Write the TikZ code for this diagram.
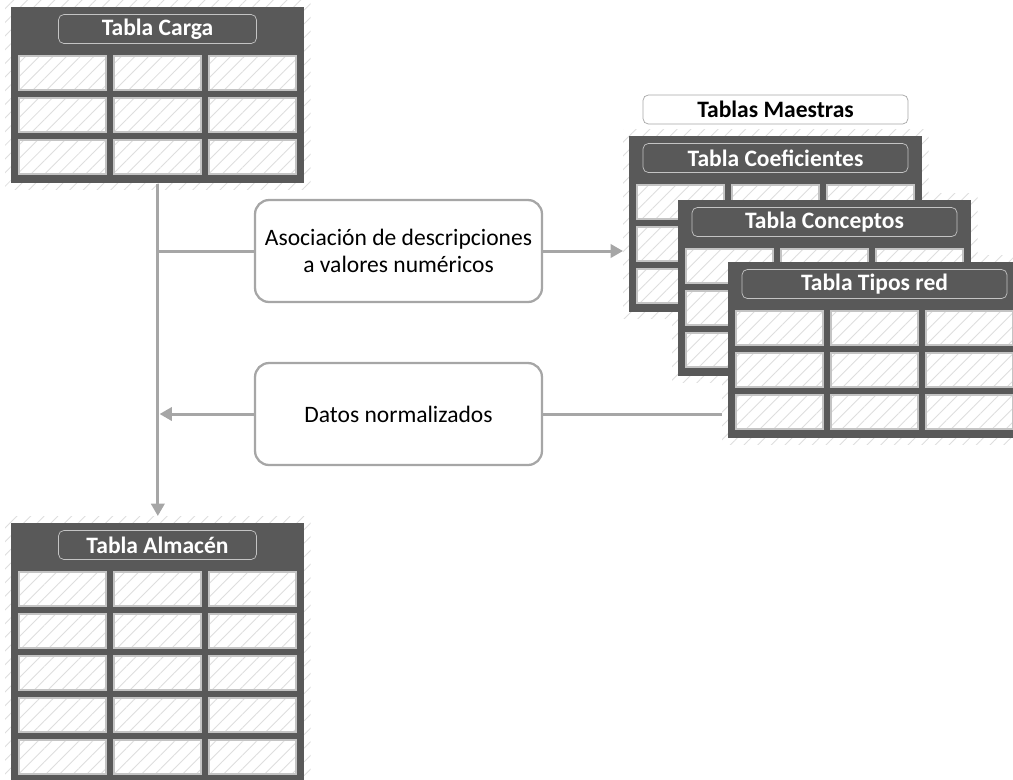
\documentclass[tikz,border=0pt]{standalone}
\usepackage{fontspec}
\setmainfont{Carlito}
\usetikzlibrary{patterns.meta,arrows.meta}
\pgfdeclarelayer{fondo}
\pgfsetlayers{fondo,main}
\definecolor{oscuro}{HTML}{595959}
\definecolor{gris}{HTML}{A6A6A6}
\definecolor{claro}{HTML}{C4C4C4}
\definecolor{rayas}{HTML}{DEDEDE}
\tikzstyle{rayado} = [pattern={Lines[angle=45,distance=5.5pt,line width=0.5pt]}, pattern color=rayas]
\tikzstyle{marco} = [fill=oscuro, inner sep=0pt, anchor=north west, minimum width=5.86cm]
\tikzstyle{celda} = [draw=claro, line width=0.6pt, preaction={fill=white}, rayado]
\tikzstyle{titulo} = [draw=claro, fill=oscuro, rounded corners=3pt, text=white, inner sep=0pt, minimum height=0.58cm, font=\fontsize{13.4}{15.5}\selectfont\bfseries]
\tikzstyle{maestras} = [titulo, draw=gris, fill=white, text=black, minimum width=5.3cm]
\tikzstyle{caja} = [draw=gris, line width=1.3pt, rounded corners=8pt, fill=white, minimum width=5.74cm, minimum height=2.04cm, align=center, font=\fontsize{13.4}{15.5}\selectfont]
\tikzstyle{linea} = [draw=gris, line width=1.7pt]
\tikzstyle{flecha} = [linea, -{Triangle[length=7pt,width=7.5pt]}]

% tabla: nombre, x, y, filas, titulo, ancho del titulo
\newcommand{\tabla}[6]{%
  \node[marco, minimum height={(50+42*#4)*0.02cm}] (#1) at (#2,#3) {};
  \begin{pgfonlayer}{fondo}
    \fill[rayado] ([shift={(-6,-7)}]#1.north west) rectangle ([shift={(6,6)}]#1.south east);
  \end{pgfonlayer}
  \coordinate (#1-n) at ([yshift=0.14cm]#1.north);
  \coordinate (#1-w) at ([xshift=-0.12cm]#1.west);
  \node[titulo, minimum width=#6] (#1-t) at ([shift={(146.5,22)}]#1.north west) {#5};
  \foreach \fila in {1,...,#4}
    \foreach \col in {0,1,2}
      \path[celda] ([shift={(8+95*\col,7+42*\fila)}]#1.north west) rectangle ++(87,34);
}

\begin{document}
\begin{tikzpicture}[x=0.02cm,y=-0.02cm]
        \useasboundingbox (0,0) rectangle (1013,779);
        \tabla{carga}{11}{7}{3}{Tabla Carga}{3.96cm}
        \tabla{almacen}{11}{523}{5}{Tabla Almacén}{3.96cm}
        \tabla{coef}{629}{136}{3}{Tabla Coeficientes}{5.3cm}
        \tabla{conc}{678}{200}{3}{Tabla Conceptos}{5.3cm}
        \tabla{tipos}{728}{262}{3}{Tabla Tipos red}{5.3cm}

        \node[maestras] (maestras) at (775.5,109.5) {Tablas Maestras};
        \node[caja] (asoc) at (398.5,251) {Asociación de descripciones\\a valores numéricos};
        \node[caja] (datos) at (398.5,414) {Datos normalizados};

        \coordinate (rama) at (carga.south |- asoc.west);
        \draw[flecha] (carga.south) -- (almacen-n);
        \draw[linea] (rama) -- (asoc.west);
        \draw[flecha] (asoc.east) -- (asoc.east -| coef-w);
        \draw[linea] (tipos-w |- datos.east) -- (datos.east);
        \draw[flecha, shorten >=1pt] (datos.west) -- (datos.west -| carga.south);
\end{tikzpicture}
\end{document}
